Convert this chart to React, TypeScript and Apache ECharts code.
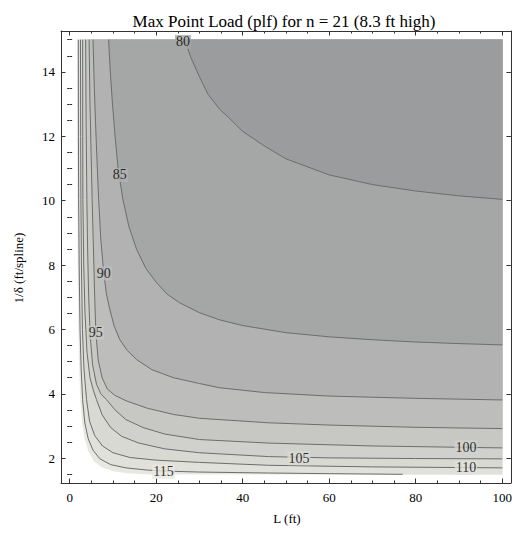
import React, { useEffect, useRef } from "react";
import * as echarts from "echarts";

// ---- data (L in ft, 1/delta in ft/spline) ----
const levels = [80, 85, 90, 95, 100, 105, 110, 115];

const c80 = [[26.6,15],[28,14.45],[30,13.85],[32,13.3],[34.6,12.85],[37,12.55],[40,12.15],[45,11.7],[50,11.3],[60,10.8],[70,10.5],[80,10.3],[90,10.15],[100,10.04]];
const c85 = [[9.0,15],[9.4,14],[9.9,13],[10.5,12],[11.2,11],[12.3,10.04],[13.7,9.2],[15.5,8.48],[17.6,7.9],[20.1,7.45],[22.5,7.1],[25.4,6.83],[30,6.52],[34.6,6.3],[40,6.12],[50,5.9],[60,5.77],[70,5.68],[80,5.61],[90,5.56],[100,5.52]];
const c90 = [[5.4,15],[5.7,13.5],[6.1,12],[6.7,10.04],[7.2,8.8],[7.9,7.74],[8.5,7.1],[9.3,6.61],[10.3,6.1],[11.6,5.68],[13.3,5.35],[15.5,5.06],[19,4.75],[24,4.5],[30,4.32],[34.6,4.19],[45,4.04],[60,3.93],[80,3.86],[100,3.81]];
const c95 = [[4.5,15],[4.7,13],[4.95,11.5],[5.2,10.04],[5.5,8.5],[5.75,7.2],[6.05,5.9],[6.6,5.05],[7.5,4.5],[8.7,4.15],[10.5,3.95],[13.1,3.78],[18,3.55],[24,3.36],[30,3.24],[46,3.1],[60,3.03],[80,2.96],[100,2.92]];
const c100 = [[3.7,15],[3.8,12.5],[3.98,10.04],[4.15,8.5],[4.4,7],[4.75,5.8],[5.3,4.9],[6.2,4.3],[7.2,4.0],[8.5,3.82],[10.5,3.5],[13,3.2],[17,2.95],[22,2.75],[30,2.58],[46,2.47],[70,2.38],[100,2.32]];
const c105 = [[3.0,15],[3.03,12],[3.06,10.04],[3.25,8],[3.55,6.5],[4.0,5.3],[4.7,4.5],[5.5,4.1],[6.2,3.82],[7.5,3.35],[9.5,2.95],[12,2.68],[16,2.47],[22,2.29],[30,2.17],[46,2.05],[60,2.01],[80,1.99],[100,1.98]];
const c110 = [[2.5,15],[2.55,12],[2.6,10.04],[2.72,8],[2.95,6],[3.3,4.8],[3.9,3.82],[4.6,3.15],[5.8,2.7],[7.6,2.38],[10,2.17],[14,2.02],[20,1.94],[30,1.87],[46,1.78],[70,1.73],[100,1.7]];
const c115 = [[2.0,15],[2.03,12],[2.08,10.04],[2.2,8],[2.4,6],[2.65,4.8],[3.0,3.82],[3.5,3.1],[4.3,2.6],[5.4,2.25],[7,1.98],[9.5,1.8],[13,1.7],[18,1.63],[22,1.6],[30,1.57],[46,1.54],[60,1.52],[77,1.5]];
const edge = [[1.75,15],[1.78,12],[1.82,10.04],[1.9,8],[2.05,6],[2.25,4.8],[2.5,3.82],[2.9,3.1],[3.5,2.6],[4.4,2.2],[5.7,1.9],[7.5,1.72],[10,1.6],[13.5,1.53],[18.5,1.5]];

const contours = [c80, c85, c90, c95, c100, c105, c110, c115];

const labelPos = [[26.2,14.93],[11.6,10.8],[7.9,7.74],[6.05,5.9],[91.6,2.34],[53,2.0],[91.6,1.7],[21.7,1.58]];

const domainX = [0, 100];
const domainY = [1.5, 15];

const xTicks = [0, 20, 40, 60, 80, 100];
const xMinor = [5,10,15,25,30,35,45,50,55,65,70,75,85,90,95];
const yTicks = [2, 4, 6, 8, 10, 12, 14];
const yMinor = [1.5,2.5,3,3.5,4.5,5,5.5,6.5,7,7.5,8.5,9,9.5,10.5,11,11.5,12.5,13,13.5,14.5,15];

// band colours: index 0 = value < 80 ... index 8 = value > 115
const bandColors = ["#9a9c9d","#a5a7a7","#b1b2b1","#bdbebb","#c7c8c4","#d0d1cc","#d8d9d3","#e0e1da","#e8e8e1"];

const FAMILY = "Liberation Serif";

export default function App() {
  const ref = useRef<HTMLDivElement>(null);
  useEffect(() => {
    if (!ref.current) return;
    const chart = echarts.init(ref.current, undefined, { renderer: "svg" });

    const closeRegion = (pts: number[][]) => {
      const last = pts[pts.length - 1];
      const out = pts.slice();
      if (last[1] <= domainY[0] + 1e-9 && last[0] < domainX[1]) out.push([domainX[1], domainY[0]]);
      out.push([domainX[1], domainY[1]]);
      return out;
    };
    const regions: { pts: number[][]; color: string }[] = [];
    regions.push({ pts: closeRegion(edge), color: bandColors[8] });
    for (let i = contours.length - 1; i >= 0; i--) {
      regions.push({ pts: closeRegion(contours[i]), color: bandColors[i] });
    }

    const axisCommon = { type: "value", splitLine: { show: false } };
    const lineC = "#333";
    const lab = { color: "#000", fontFamily: FAMILY, fontSize: 13 };

    const mk = (min: number, max: number, position: string, major: boolean, labels: boolean, ticks: number[]) => ({
      ...axisCommon, min, max, position,
      axisLine: major ? { show: true, onZero: false, lineStyle: { color: lineC, width: 1 } } : { show: false },
      axisTick: { show: true, inside: true, length: major ? 4.5 : 2.5, customValues: ticks, lineStyle: { color: lineC } },
      axisLabel: labels
        ? { show: true, customValues: ticks, ...lab, margin: position === "bottom" ? 8 : 6 }
        : { show: false },
    });

    const xAxes = [
      mk(-2, 102, "bottom", true, true, xTicks),
      mk(-2, 102, "bottom", false, false, xMinor),
      mk(-2, 102, "top", true, false, xTicks),
      mk(-2, 102, "top", false, false, xMinor),
    ];
    const yAxes = [
      mk(1.23, 15.27, "left", true, true, yTicks),
      mk(1.23, 15.27, "left", false, false, yMinor),
      mk(1.23, 15.27, "right", true, false, yTicks),
      mk(1.23, 15.27, "right", false, false, yMinor),
    ];

    const series: any[] = [];
    series.push({
      type: "custom",
      xAxisIndex: 0,
      yAxisIndex: 0,
      z: 1,
      silent: true,
      data: regions.map((_, i) => [i]),
      renderItem: (params: any, api: any) => {
        const r = regions[params.dataIndex];
        return {
          type: "polygon",
          shape: { points: r.pts.map((p) => api.coord(p)) },
          style: { fill: r.color, stroke: r.color, lineWidth: 0.3 },
        };
      },
    });
    contours.forEach((c, i) => {
      series.push({
        type: "line",
        name: String(levels[i]),
        xAxisIndex: 0,
        yAxisIndex: 0,
        z: 2,
        data: c,
        showSymbol: false,
        symbol: "none",
        silent: true,
        lineStyle: { color: "#6c6e6e", width: 1 },
      });
    });
    series.push({
      type: "scatter",
      xAxisIndex: 0,
      yAxisIndex: 0,
      z: 3,
      symbolSize: 0,
      silent: true,
      data: labelPos.map((p, i) => ({
        name: String(levels[i]),
        value: p,
        label: { backgroundColor: bandColors[Math.min(i + 1, 8)] },
      })),
      label: {
        show: true,
        position: "inside",
        formatter: "{b}",
        color: "#000",
        fontFamily: FAMILY,
        fontSize: 14,
        padding: [0, 1, 0, 1],
      },
    });

    chart.setOption({
      animation: false,
      backgroundColor: "#fff",
      textStyle: { fontFamily: FAMILY },
      grid: { left: 61, right: 2, top: 31, bottom: 50, containLabel: false },
      xAxis: xAxes,
      yAxis: yAxes,
      series,
      graphic: [
        { type: "text", x: 284, y: 21,
          style: { text: "Max Point Load (plf) for n = 21 (8.3 ft high)", fontFamily: FAMILY, fontSize: 17, fill: "#000",
            textAlign: "center", textVerticalAlign: "middle", align: "center", verticalAlign: "middle" } },
        { type: "text", x: 287, y: 518,
          style: { text: "L (ft)", fontFamily: FAMILY, fontSize: 13, fill: "#000",
            textAlign: "center", textVerticalAlign: "middle", align: "center", verticalAlign: "middle" } },
        { type: "text", x: 18, y: 268, rotation: Math.PI / 2,
          style: { text: "1/δ (ft/spline)", fontFamily: FAMILY, fontSize: 13, fill: "#000",
            textAlign: "center", textVerticalAlign: "middle", align: "center", verticalAlign: "middle" } },
      ],
    });
    return () => chart.dispose();
  }, []);
  return (
    <div
      ref={ref}
      style={{ position: "fixed", left: 0, top: 0, width: 515, height: 533, background: "#fff" }}
    />
  );
}
